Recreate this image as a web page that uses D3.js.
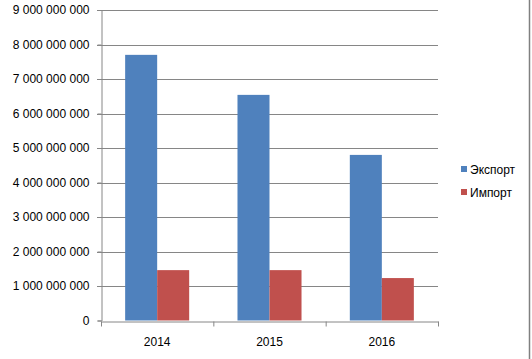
<!DOCTYPE html>
<html><head><meta charset="utf-8">
<script src="https://cdn.jsdelivr.net/npm/d3@7"></script>
<style>body{margin:0;background:#fff;}svg{display:block;font-family:"Liberation Sans",Arial,sans-serif;}</style>
</head><body><svg id="c" width="532" height="359"></svg>
<script>
const categories = ["2014", "2015", "2016"];
const seriesNames = ["Экспорт", "Импорт"];
const exportValues = [7.70e9, 6.54e9, 4.80e9];
const importValues = [1.46e9, 1.46e9, 1.23e9];
const yTicks = [0,1e9,2e9,3e9,4e9,5e9,6e9,7e9,8e9,9e9];
const colors = ["#4F81BD", "#C0504D"];

const svg = d3.select("#c");
const pL = 101, pR = 438, pT = 10, pB = 320.5;
const x = d3.scaleBand().domain(categories).range([pL, pR]).paddingInner(0.43).paddingOuter(0.215);
const xs = d3.scaleBand().domain(seriesNames).range([0, x.bandwidth()]);
const y = d3.scaleLinear().domain([0, 9e9]).range([pB, pT]);
const fmt = v => d3.format(",")(v).replace(/,/g, "\u00a0");

// gridlines
svg.append("g").selectAll("line").data(yTicks.slice(1)).join("line")
  .attr("x1", pL - 4).attr("x2", pR).attr("y1", d => Math.round(y(d)) + 0.5).attr("y2", d => Math.round(y(d)) + 0.5)
  .attr("stroke", "#868686").attr("stroke-width", 1);

// y axis
const ya = svg.append("g").attr("transform", `translate(${pL + 0.5},0)`)
  .call(d3.axisLeft(y).tickValues(yTicks).tickFormat(fmt).tickSize(4).tickPadding(8));
ya.selectAll("path,line").attr("stroke", "#868686");
ya.selectAll("text").attr("font-size", 12).attr("fill", "#000").attr("font-family", "Liberation Sans, Arial, sans-serif");

// bars
const data = categories.map((c, i) => ({c, vals: [exportValues[i], importValues[i]]}));
const g = svg.append("g");
data.forEach(d => {
  d.vals.forEach((v, j) => {
    g.append("rect").attr("x", x(d.c) + xs(seriesNames[j])).attr("width", xs.bandwidth())
      .attr("y", y(v)).attr("height", y(0) - y(v)).attr("fill", colors[j]);
  });
});

// x axis
const xa = svg.append("g").attr("transform", `translate(0,${Math.round(pB) + 0.5})`)
  .call(d3.axisBottom(d3.scaleLinear().domain([0, 3]).range([pL, pR])).tickValues([0,1,2,3]).tickFormat("").tickSize(5).tickSizeOuter(0));
xa.selectAll("path,line").attr("stroke", "#868686");
svg.append("g").selectAll("text").data(categories).join("text")
  .attr("x", d => x(d) + x.bandwidth() / 2).attr("y", 346).attr("text-anchor", "middle")
  .attr("font-size", 12).text(d => d);

// legend
const lg = svg.append("g");
seriesNames.forEach((s, i) => {
  lg.append("rect").attr("x", 461).attr("y", 166 + i * 23).attr("width", 6).attr("height", 6).attr("fill", colors[i]);
  lg.append("text").attr("x", 470).attr("y", 174 + i * 23).attr("font-size", 12).text(s);
});

// right border line
svg.append("line").attr("x1", 529.5).attr("x2", 529.5).attr("y1", 0).attr("y2", 359).attr("stroke", "#808080").attr("stroke-width", 1.5);
</script></body></html>
